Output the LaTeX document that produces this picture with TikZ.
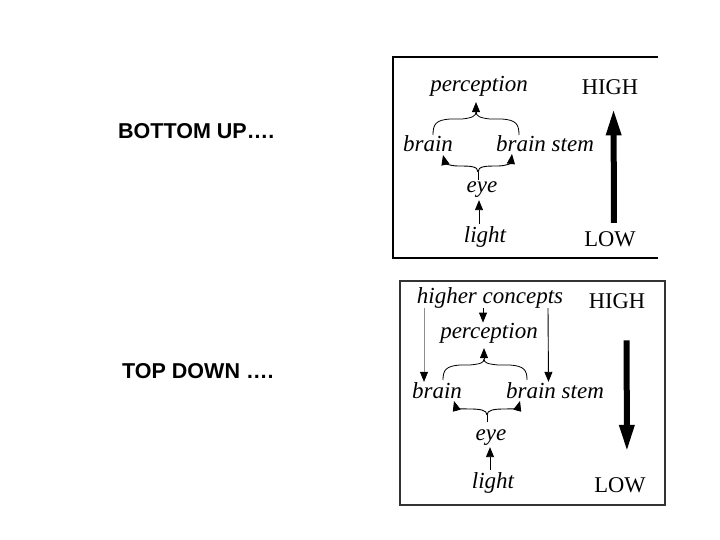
\documentclass[tikz,border=0pt]{standalone}
\usepackage{fontspec}
\setmainfont{Liberation Serif}
\newfontfamily\slidefont{Liberation Sans}
\usetikzlibrary{arrows.meta,calc}

\begin{document}
\begin{tikzpicture}[x=1pt,y=-1pt,
  lbl/.style={font=\slidefont\bfseries\fontsize{21.5}{24}\selectfont,
              anchor=base west, inner sep=0pt},
  term/.style={font=\itshape\fontsize{23}{26}\selectfont, anchor=base, inner sep=0pt},
  lvl/.style={font=\fontsize{22.5}{26}\selectfont, anchor=base, inner sep=0pt},
  arr/.style={-{Triangle[width=8pt,length=10pt]}, line width=0.9pt},
  brace/.style={line width=0.8pt},
  bigarr/.style={-{Triangle[width=14pt,length=27pt]}, line width=6pt},
  frame/.style={line width=1.5pt}
]
\useasboundingbox (0,0) rectangle (720,540);

% Slide labels
\node[lbl] (bu) at (118,139) {BOTTOM UP….};
\node[lbl] (td) at (122,378) {TOP DOWN ….};

% Bottom-up panel
\draw[frame] (658,57) -- (393,57) -- (393,258) -- (658,258);
\node[term] (perc1)  at (479,92)  {perception};
\node[lvl]  (high1)  at (610,95)  {HIGH};
\node[term] (brain1) at (428,152) {brain};
\node[term] (stem1)  at (545,152) {brain stem};
\node[term] (eye1)   at (482,193) {eye};
\node[term] (light1) at (485,242) {light};
\node[lvl]  (low1)   at (610,247) {LOW};

\coordinate (pk1) at (476,112);
\coordinate (st1) at (478,180);
\draw[brace] (433,135) .. controls (433,124) and (436,120) .. (450,119) -- (462,119)
  .. controls (472,118) and (476,116) .. (pk1);
\draw[brace] (519,135) .. controls (519,124) and (516,120) .. (502,119) -- (490,119)
  .. controls (480,118) and (476,116) .. (pk1);
\draw[arr, shorten >=5pt] (pk1) -- (pk1 |- perc1.south);
\draw[brace] (st1) -- ++(0,-8) coordinate (sm1);
\draw[brace, arr] (sm1) .. controls (478,166) and (470,166) .. (458,166)
  .. controls (450,166) and (445,163) .. (443,155);
\draw[brace, arr] (sm1) .. controls (478,166) and (486,166) .. (498,166)
  .. controls (506,166) and (511,163) .. (512,154);
\draw[arr, shorten <=2pt, shorten >=2pt] ([xshift=-6pt]light1.north) -- ([xshift=-3pt]eye1.south);
\draw[bigarr, shorten <=9pt, shorten >=13pt] ([xshift=4pt]low1.north) -- ([xshift=3.5pt]high1.south);

% Top-down panel
\draw[frame, black!80] (400,281) rectangle (665,505);
\node[term] (hc2)    at (490,303) {higher concepts};
\node[lvl]  (high2)  at (617,308) {HIGH};
\node[term] (perc2)  at (489,338) {perception};
\node[term] (brain2) at (437,398) {brain};
\node[term] (stem2)  at (555,398) {brain stem};
\node[term] (eye2)   at (491,440) {eye};
\node[term] (light2) at (493,488) {light};
\node[lvl]  (low2)   at (620,492) {LOW};

\draw[arr] ([xshift=-7pt]hc2.south) -- ([xshift=-6pt]perc2.north);
\draw[-{Triangle[width=8pt,length=10pt,color=black]}, line width=0.6pt, black!45]
  ([xshift=-66pt]hc2.south) -- ([xshift=-13pt]brain2.north);
\draw[arr] ([xshift=58pt]hc2.south) -- ([xshift=-6.5pt]stem2.north);

\coordinate (pk2) at (484,359);
\coordinate (st2) at (487,422);
\draw[brace] (443,380) .. controls (443,370) and (446,366) .. (460,365) -- (470,365)
  .. controls (480,364) and (484,363) .. (pk2);
\draw[brace] (527,380) .. controls (527,370) and (524,366) .. (510,365) -- (498,365)
  .. controls (488,364) and (484,363) .. (pk2);
\draw[arr, shorten >=5pt] (pk2) -- (pk2 |- perc2.south);
\draw[brace] (st2) -- ++(0,-7) coordinate (sm2);
\draw[brace, arr] (sm2) .. controls (487,410) and (480,409) .. (470,409)
  .. controls (462,409) and (456,408) .. (454,401);
\draw[brace, arr] (sm2) .. controls (487,410) and (494,409) .. (504,409)
  .. controls (512,409) and (518,408) .. (520,401);
\draw[arr, shorten <=2pt, shorten >=2pt] ([xshift=-3pt]light2.north) -- ([xshift=-1pt]eye2.south);
\draw[bigarr, shorten <=32pt, shorten >=25pt] ([xshift=9.5pt]high2.south) -- ([xshift=7pt]low2.north);
\end{tikzpicture}
\end{document}
